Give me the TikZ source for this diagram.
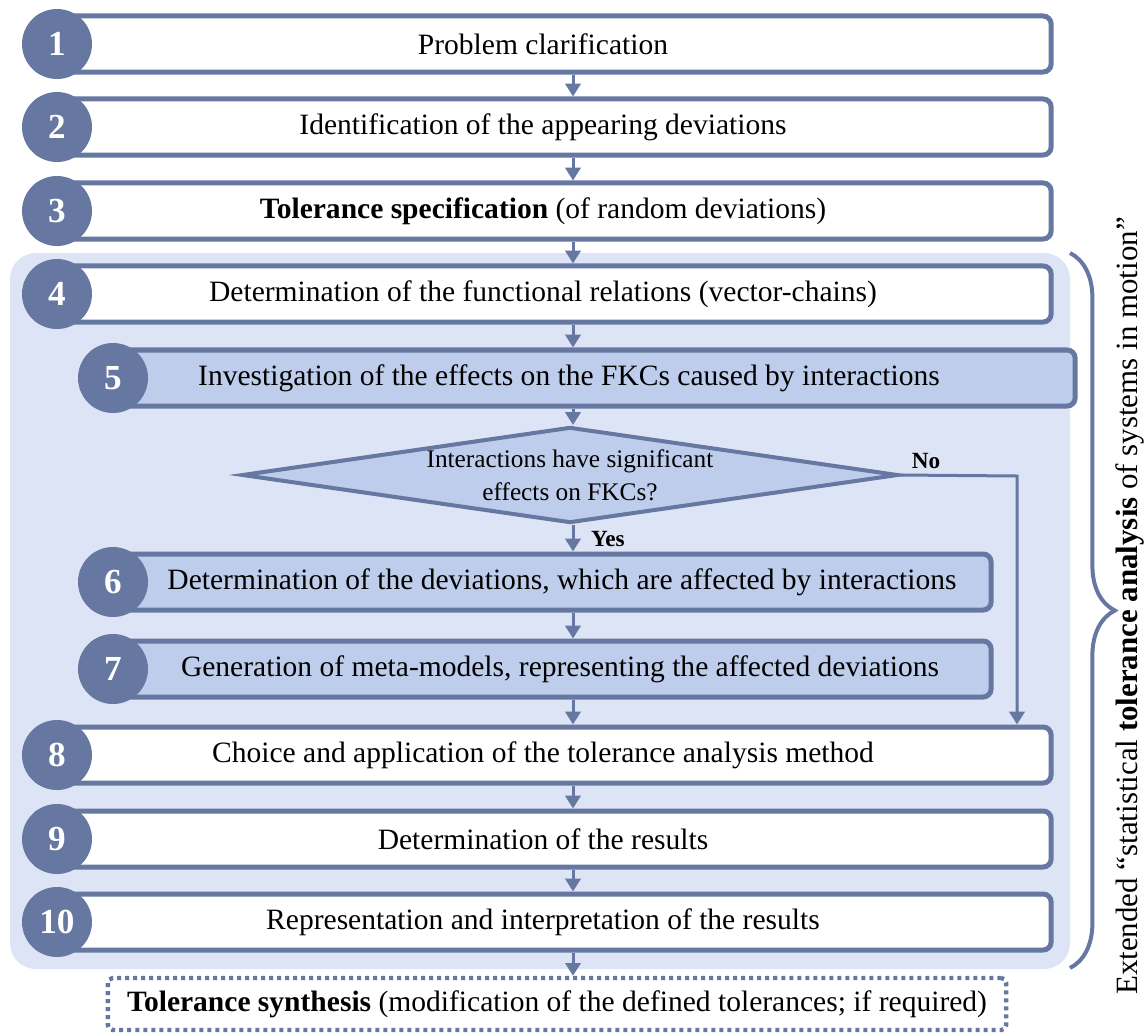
\documentclass[tikz,border=0pt]{standalone}
\usepackage{fontspec}
\setmainfont{Liberation Serif}
\usetikzlibrary{positioning}
\usetikzlibrary{shapes.geometric}
\usetikzlibrary{arrows.meta}
\usetikzlibrary{decorations.pathreplacing}

\tikzset{
	stepbox/.style={draw=STEPBLUE, line width=0.125cm, rounded corners=0.2cm, fill=white, minimum height=1.4cm, inner sep=0pt, font=\fontsize{21}{25}\selectfont},
	substepbox/.style={stepbox, fill=LIGHTBLUE},
	stepnum/.style={circle, fill=STEPBLUE, text=white, minimum size=1.75cm, inner sep=0pt, font=\fontsize{25}{30}\selectfont\bfseries},
	flow/.style={draw=STEPBLUE, line width=0.075cm, -{Triangle[length=0.32cm, width=0.38cm]}},
	flowlabel/.style={inner sep=0pt, font=\fontsize{16.5}{20}\selectfont\bfseries},
}

\begin{document}
\begin{tikzpicture}[x=0.025cm, y=-0.025cm]
			\definecolor{STEPBLUE}{RGB}{102, 119, 161}
			\definecolor{PANEL}{RGB}{221, 228, 245}
			\definecolor{LIGHTBLUE}{RGB}{190, 205, 235}
			\useasboundingbox (0,0) rectangle (1147,1034);
			\fill[PANEL, rounded corners=0.65cm] (10,253) rectangle (1070,969);
			\coordinate (axis) at (573,0);
			\node[stepbox, minimum width=25.4cm] (step1) at (543,  44) {Problem clarification};
			\node[stepbox, minimum width=25.4cm] (step2) at (543, 127) {Identification of the appearing deviations};
			\node[stepbox, minimum width=25.4cm] (step3) at (543, 211) {\textbf{Tolerance specification} (of random deviations)};
			\node[stepbox, minimum width=25.4cm] (step4) at (543, 294) {Determination of the functional relations (vector-chains)};
			\node[substepbox, minimum width=24.6cm] (step5) at (583, 378) {Investigation of the effects on the FKCs caused by interactions\hspace*{0.7cm}};
			\node[diamond, draw=STEPBLUE, fill=LIGHTBLUE, line width=0.1cm, aspect=6.9, inner sep=0pt, minimum width=16.4cm, minimum height=2.4cm, align=center, font=\fontsize{18}{23.5}\selectfont] (check) at (570, 475) {Interactions have significant\\effects on FKCs?};
			\node[substepbox, minimum width=22.5cm] (step6) at (541, 582) {\hspace*{1.05cm}Determination of the deviations, which are affected by interactions};
			\node[substepbox, minimum width=22.5cm] (step7) at (541, 669) {\hspace*{0.95cm}Generation of meta-models, representing the affected deviations};
			\node[stepbox, minimum width=25.4cm] (step8) at (543, 755) {Choice and application of the tolerance analysis method};
			\node[stepbox, minimum width=25.4cm] (step9) at (543, 839) {Determination of the results};
			\node[stepbox, minimum width=25.4cm] (step10) at (543, 922) {Representation and interpretation of the results};
			\node[stepbox, draw=STEPBLUE, line width=0.11cm, dash pattern=on 0.1cm off 0.1cm, rounded corners=0.12cm, minimum width=22.45cm, minimum height=1.3cm] (synthesis) at (557, 1004) {\textbf{Tolerance synthesis} (modification of the defined tolerances; if required)};
			\node[stepnum] (num1) at ( 57,  44) {1};
			\node[stepnum] (num2) at ( 57, 127) {2};
			\node[stepnum] (num3) at ( 57, 211) {3};
			\node[stepnum] (num4) at ( 57, 294) {4};
			\node[stepnum] (num5) at (113, 378) {5};
			\node[stepnum] (num6) at (113, 582) {6};
			\node[stepnum] (num7) at (113, 669) {7};
			\node[stepnum] (num8) at ( 57, 755) {8};
			\node[stepnum] (num9) at ( 57, 839) {9};
			\node[stepnum] (num10) at ( 57, 922) {10};
			\draw[flow] (step1.south -| axis) to (step2.north -| axis);
			\draw[flow] (step2.south -| axis) to (step3.north -| axis);
			\draw[flow] (step3.south -| axis) to (step4.north -| axis);
			\draw[flow] (step4.south -| axis) to (step5.north -| axis);
			\draw[flow] (step5.south -| axis) to (check.north -| axis);
			\draw[flow] (check.south -| axis) to (step6.north -| axis);
			\draw[flow] (step6.south -| axis) to (step7.north -| axis);
			\draw[flow] (step7.south -| axis) to (step8.north -| axis);
			\draw[flow] (step8.south -| axis) to (step9.north -| axis);
			\draw[flow] (step9.south -| axis) to (step10.north -| axis);
			\draw[flow] (step10.south -| axis) to (synthesis.north -| axis);
			\coordinate (nobend) at (1017, 476);
			\draw[flow] (check.east) -- (nobend) -- (nobend |- step8.north);
			\node[flowlabel] (yes) at (608, 539) {Yes};
			\node[flowlabel] (no) at (926, 461) {No};
			\coordinate (bracetop) at (1070, 253);
			\coordinate (bracebottom) at (1070, 968);
			\draw[STEPBLUE, line width=0.1cm, decorate, decoration={brace, amplitude=1.12cm}] (bracetop) -- (bracebottom);
			\node[rotate=90, inner sep=0pt, font=\fontsize{22}{26}\selectfont] (extended) at (1130, 606) {Extended “statistical \textbf{tolerance analysis} of systems in motion”};
		\end{tikzpicture}
\end{document}
